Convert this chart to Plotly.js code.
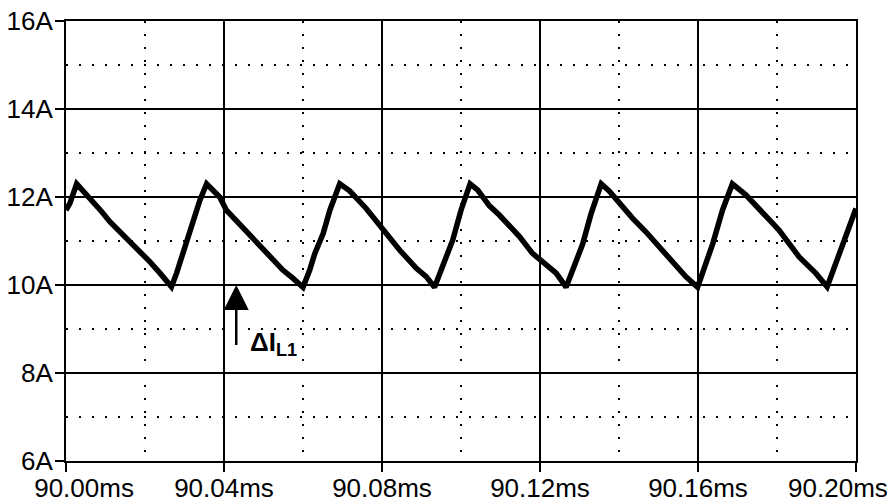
<!DOCTYPE html>
<html>
<head>
<meta charset="utf-8">
<script src="https://cdn.plot.ly/plotly-3.0.1.min.js"></script>
<style>html,body{margin:0;padding:0;background:#fff;}#chart{width:887px;height:504px;}</style>
</head>
<body>
<div id="chart"></div>
<script>
// Time in ms, inductor current in A
const timeMs = [
  90.0000, 90.0010, 90.0027, 90.0044, 90.0069, 90.0090, 90.0111, 90.0137, 90.0162, 90.0191, 90.0212, 90.0238, 90.0267,
  90.0280, 90.0301, 90.0326, 90.0339, 90.0356,
  90.0389, 90.0406, 90.0450, 90.0491, 90.0549, 90.0575, 90.0600,
  90.0617, 90.0630, 90.0651, 90.0668, 90.0693,
  90.0718, 90.0760, 90.0802, 90.0844, 90.0887, 90.0912, 90.0933,
  90.0954, 90.0979, 90.1000, 90.1023,
  90.1042, 90.1072, 90.1097, 90.1123, 90.1148, 90.1181, 90.1207, 90.1241, 90.1266,
  90.1283, 90.1308, 90.1329, 90.1355,
  90.1375, 90.1401, 90.1434, 90.1468, 90.1502, 90.1536, 90.1569, 90.1599,
  90.1611, 90.1637, 90.1662, 90.1687,
  90.1721, 90.1763, 90.1805, 90.1856, 90.1898, 90.1927,
  90.1940, 90.1965, 90.1982, 90.2000
];
const currentA = [
  11.70, 11.86, 12.30, 12.14, 11.89, 11.67, 11.44, 11.21, 10.98, 10.72, 10.53, 10.27, 9.96,
  10.27, 10.87, 11.55, 11.93, 12.30,
  12.00, 11.70, 11.28, 10.87, 10.34, 10.15, 9.95,
  10.34, 10.72, 11.17, 11.70, 12.30,
  12.14, 11.74, 11.25, 10.80, 10.38, 10.19, 9.95,
  10.42, 11.02, 11.70, 12.30,
  12.16, 11.80, 11.59, 11.36, 11.10, 10.72, 10.53, 10.27, 9.95,
  10.34, 10.93, 11.61, 12.30,
  12.14, 11.86, 11.52, 11.21, 10.87, 10.53, 10.19, 9.95,
  10.27, 10.93, 11.70, 12.30,
  12.05, 11.63, 11.25, 10.64, 10.27, 9.96,
  10.27, 10.87, 11.33, 11.74
];
const xTicks = [90.00, 90.04, 90.08, 90.12, 90.16, 90.20];
const xTickText = ["\u00A0\u00A0\u00A0\u00A0\u00A090.00ms", "90.04ms", "90.08ms", "90.12ms", "90.16ms", "90.20ms\u00A0\u00A0\u00A0\u00A0\u00A0"];
const yTicks = [6, 8, 10, 12, 14, 16];
const yTickText = ["6A", "8A", "10A", "12A", "14A", "16A"];
const rippleLabel = "<b>ΔI<sub>L1</sub></b>";
const arrowTime = 90.0431;
const arrowTipA = 10.0;
const arrowTailA = 8.6;

const font = "Liberation Sans, Arial, Helvetica, sans-serif";

const trace = {
  x: timeMs, y: currentA, type: "scatter", mode: "lines",
  line: {color: "#000", width: 5.5}, hoverinfo: "skip"
};

const axisCommon = {
  showline: true, mirror: true, linecolor: "#000", linewidth: 2,
  showgrid: true, gridcolor: "#000", gridwidth: 2,
  ticks: "outside", ticklen: 9, tickwidth: 2, tickcolor: "#000",
  zeroline: false, tickfont: {family: font, size: 26, color: "#000"},
  tickmode: "array", ticklabeloverflow: "allow"
};

const layout = {
  width: 887, height: 504,
  margin: {l: 66, r: 31, t: 21, b: 43},
  paper_bgcolor: "#fff", plot_bgcolor: "#fff",
  showlegend: false,
  xaxis: Object.assign({}, axisCommon, {
    range: [90.0, 90.2], tickvals: xTicks, ticktext: xTickText, ticklabelstandoff: -6,
    minor: {dtick: 0.02, tick0: 90.0, showgrid: true, gridcolor: "#000", gridwidth: 2, griddash: "2px,11px", ticks: ""}
  }),
  yaxis: Object.assign({}, axisCommon, {
    range: [6, 16], tickvals: yTicks, ticktext: yTickText, ticklabelstandoff: -3,
    minor: {dtick: 1, tick0: 6, showgrid: true, gridcolor: "#000", gridwidth: 2, griddash: "2px,11px", ticks: ""}
  }),
  annotations: [
    {
      x: arrowTime, y: arrowTipA, xref: "x", yref: "y",
      ax: arrowTime, ay: arrowTailA, axref: "x", ayref: "y",
      showarrow: true, arrowhead: 2, arrowsize: 2, arrowwidth: 2.5, arrowcolor: "#000",
      text: ""
    },
    {
      x: arrowTime + 0.0031, y: 8.68, xref: "x", yref: "y",
      xanchor: "left", yanchor: "middle", showarrow: false,
      text: rippleLabel, font: {family: font, size: 26, color: "#000"}
    }
  ]
};

Plotly.newPlot("chart", [trace], layout, {displayModeBar: false, staticPlot: true});
</script>
</body>
</html>
